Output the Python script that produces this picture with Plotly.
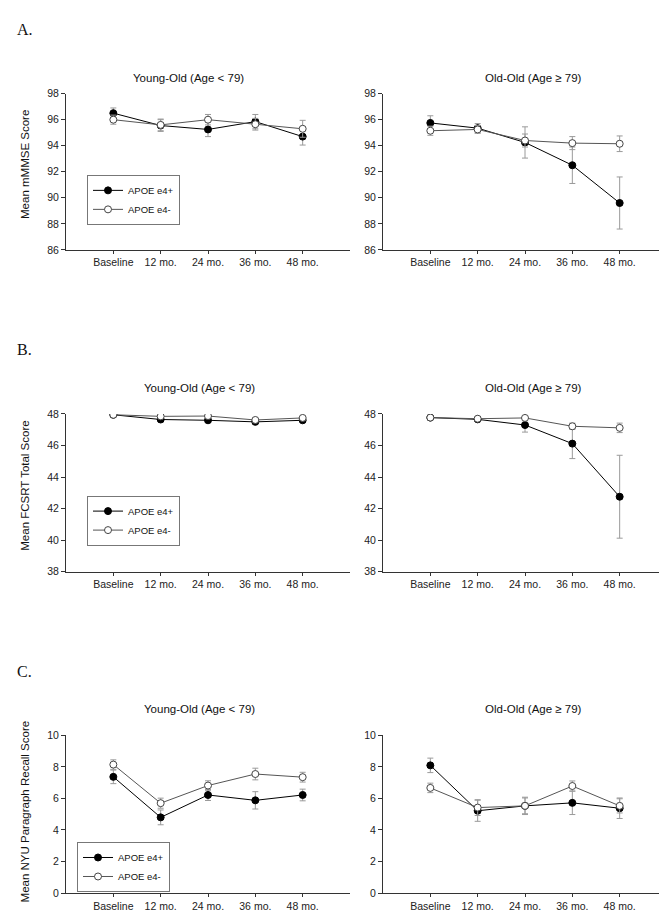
import plotly.graph_objects as go

categories = ["Baseline", "12 mo.", "24 mo.", "36 mo.", "48 mo."]

# Panel A: mMMSE
a_young_pos = [96.5, 95.55, 95.25, 95.85, 94.7]
a_young_pos_err = [0.4, 0.45, 0.55, 0.55, 0.65]
a_young_neg = [96.0, 95.6, 96.0, 95.65, 95.3]
a_young_neg_err = [0.35, 0.45, 0.4, 0.45, 0.65]
a_old_pos = [95.75, 95.35, 94.25, 92.5, 89.6]
a_old_pos_err = [0.55, 0.35, 1.2, 1.4, 2.0]
a_old_neg = [95.15, 95.25, 94.4, 94.2, 94.15]
a_old_neg_err = [0.35, 0.3, 0.5, 0.5, 0.6]

# Panel B: FCSRT
b_young_pos = [47.95, 47.65, 47.6, 47.5, 47.6]
b_young_pos_err = [0.05, 0.06, 0.06, 0.08, 0.06]
b_young_neg = [47.95, 47.85, 47.87, 47.62, 47.75]
b_young_neg_err = [0.04, 0.05, 0.05, 0.1, 0.07]
b_old_pos = [47.77, 47.66, 47.3, 46.12, 42.75]
b_old_pos_err = [0.05, 0.08, 0.45, 0.95, 2.63]
b_old_neg = [47.77, 47.7, 47.75, 47.22, 47.12]
b_old_neg_err = [0.05, 0.05, 0.08, 0.2, 0.3]

# Panel C: NYU Paragraph Recall
c_young_pos = [7.37, 4.8, 6.22, 5.88, 6.22]
c_young_pos_err = [0.43, 0.47, 0.35, 0.55, 0.37]
c_young_neg = [8.15, 5.7, 6.82, 7.55, 7.35]
c_young_neg_err = [0.3, 0.32, 0.3, 0.37, 0.31]
c_old_pos = [8.1, 5.22, 5.53, 5.72, 5.38]
c_old_pos_err = [0.46, 0.67, 0.5, 0.74, 0.65]
c_old_neg = [6.67, 5.42, 5.53, 6.79, 5.53]
c_old_neg_err = [0.3, 0.5, 0.55, 0.32, 0.45]

series_names = ["APOE e4+", "APOE e4-"]
y_titles = ["Mean mMMSE Score", "Mean FCSRT Total Score", "Mean NYU Paragraph Recall Score"]
panel_letters = ["A.", "B.", "C."]
title_young = "Young-Old (Age < 79)"
title_old = "Old-Old (Age ≥ 79)"
y_ranges = [(86, 98, 2), (38, 48, 2), (0, 10, 2)]

W, H = 667, 915
FONT = "Liberation Sans, Arial, sans-serif"

def px_x(p):
    return p / W

def px_y(p):
    return 1 - p / H

# panel pixel geometry (top, bottom)
rows_px = [(80.7, 239.0), (405.3, 565.0), (731.0, 890.7)]
cols_px = [(58.0, 342.0), (375.0, 659.0)]

data = [
    [(a_young_pos, a_young_pos_err, a_young_neg, a_young_neg_err),
     (a_old_pos, a_old_pos_err, a_old_neg, a_old_neg_err)],
    [(b_young_pos, b_young_pos_err, b_young_neg, b_young_neg_err),
     (b_old_pos, b_old_pos_err, b_old_neg, b_old_neg_err)],
    [(c_young_pos, c_young_pos_err, c_young_neg, c_young_neg_err),
     (c_old_pos, c_old_pos_err, c_old_neg, c_old_neg_err)],
]

fig = go.Figure()
layout = {}
annotations = []
legend_names = ["legend", "legend2", "legend3"]
legend_pos = [(79, 163), (79, 488), (69, 839)]

ax = 0
for r in range(3):
    for c in range(2):
        ax += 1
        xa = "x" if ax == 1 else f"x{ax}"
        ya = "y" if ax == 1 else f"y{ax}"
        xkey = "xaxis" if ax == 1 else f"xaxis{ax}"
        ykey = "yaxis" if ax == 1 else f"yaxis{ax}"
        pos, pos_err, neg, neg_err = data[r][c]
        show = (c == 0)
        leg = legend_names[r]
        fig.add_trace(go.Scatter(
            x=categories, y=pos, name=series_names[0], mode="lines+markers",
            line=dict(color="#000000", width=1),
            marker=dict(symbol="circle", size=7, color="#000000",
                        line=dict(color="#000000", width=1)),
            error_y=dict(type="data", array=pos_err, visible=True,
                         color="#9a9a9a", thickness=1, width=3),
            xaxis=xa, yaxis=ya, showlegend=show, legend=leg,
        ))
        fig.add_trace(go.Scatter(
            x=categories, y=neg, name=series_names[1], mode="lines+markers",
            line=dict(color="#555555", width=1),
            marker=dict(symbol="circle", size=7, color="#ffffff",
                        line=dict(color="#444444", width=1)),
            error_y=dict(type="data", array=neg_err, visible=True,
                         color="#9a9a9a", thickness=1, width=3),
            xaxis=xa, yaxis=ya, showlegend=show, legend=leg,
        ))
        top, bot = rows_px[r]
        left, right = cols_px[c]
        lo, hi, step = y_ranges[r]
        layout[xkey] = dict(
            domain=[px_x(left), px_x(right)], anchor=ya,
            type="category", categoryorder="array", categoryarray=categories,
            range=[-1, 5], showline=True, linecolor="#333333", linewidth=1,
            ticks="outside", ticklen=3, tickcolor="#333333",
            showgrid=False, zeroline=False,
            tickfont=dict(family=FONT, size=10.5, color="#222222"),
        )
        layout[ykey] = dict(
            domain=[px_y(bot), px_y(top)], anchor=xa,
            range=[lo, hi], dtick=step, tick0=lo,
            showline=True, linecolor="#333333", linewidth=1,
            ticks="outside", ticklen=4, tickcolor="#333333",
            showgrid=False, zeroline=False,
            tickfont=dict(family=FONT, size=10.5, color="#222222"),
        )

# panel titles
title_y = [65, 379.3, 704]
for r in range(3):
    annotations.append(dict(text=title_young, x=px_x(180.5 if r == 0 else 192), y=px_y(title_y[r]),
                            xref="paper", yref="paper", showarrow=False,
                            xanchor="center", yanchor="middle",
                            font=dict(family=FONT, size=11.5, color="#111111")))
    annotations.append(dict(text=title_old, x=px_x(525.7), y=px_y(title_y[r]),
                            xref="paper", yref="paper", showarrow=False,
                            xanchor="center", yanchor="middle",
                            font=dict(family=FONT, size=11.5, color="#111111")))

# y titles
ytitle_y = [153, 478, 808]
for r in range(3):
    annotations.append(dict(text=y_titles[r], x=px_x(17), y=px_y(ytitle_y[r]),
                            xref="paper", yref="paper", showarrow=False, textangle=-90,
                            xanchor="center", yanchor="middle",
                            font=dict(family=FONT, size=11.5, color="#111111")))

# panel letters
letter_y = [16, 340, 666]
for r in range(3):
    annotations.append(dict(text=panel_letters[r], x=px_x(7), y=px_y(letter_y[r]),
                            xref="paper", yref="paper", showarrow=False,
                            xanchor="left", yanchor="middle",
                            font=dict(family="Liberation Serif, Times New Roman, serif",
                                      size=16, color="#111111")))

for i, name in enumerate(legend_names):
    lx, ly = legend_pos[i]
    layout[name] = dict(
        x=px_x(lx), y=px_y(ly), xanchor="left", yanchor="top",
        bordercolor="#777777", borderwidth=1, bgcolor="rgba(255,255,255,0)",
        font=dict(family=FONT, size=9.5, color="#111111"),
        itemwidth=30, tracegroupgap=0, traceorder="normal",
    )

fig.update_layout(
    width=W, height=H, margin=dict(l=0, r=0, t=0, b=0),
    paper_bgcolor="white", plot_bgcolor="white",
    annotations=annotations, **layout,
)

fig.write_html("out.html")
